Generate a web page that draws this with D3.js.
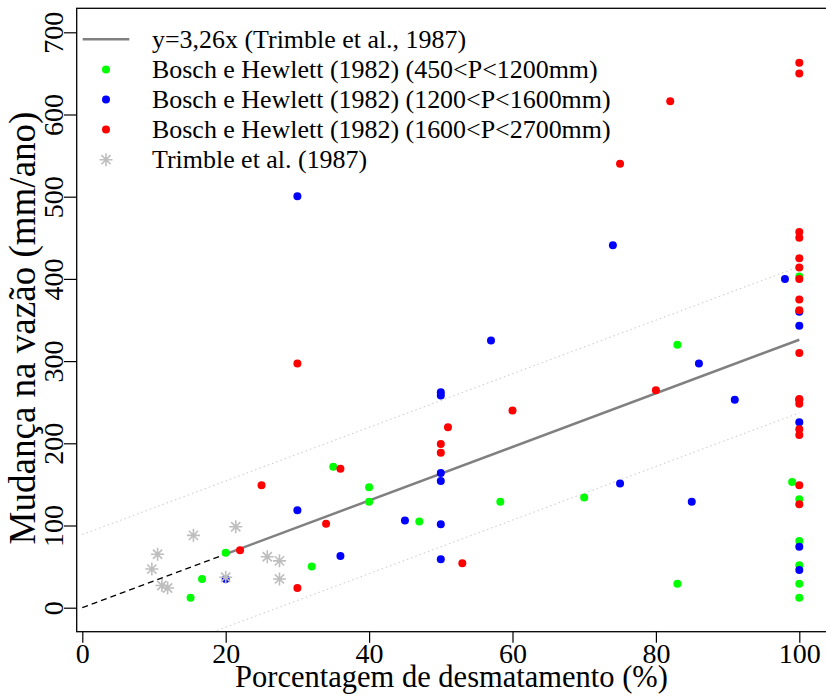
<!DOCTYPE html>
<html><head><meta charset="utf-8">
<script src="https://cdn.jsdelivr.net/npm/d3@7"></script>
<style>body{margin:0;background:#fff}</style>
</head><body><svg id="c" width="826" height="698"></svg>
<script>
const trimbleX=[9.7,10.5,11.1,11.9,15.5,20.0,21.4,25.8,27.5,27.5];
const trimbleY=[47,65,27,24,88,37,98.5,62,57,35];
const greenX=[15.1,16.7,20,32,35,40,40,47,58.3,70,83,83,99,100,100,100,100,100,100];
const greenY=[12,35,67,50,171.5,146.5,129,105,129,134,320,29,153,403,132,81,51.5,29,12];
const blueX=[20,30,30,36,45,50,50,50,50,50,50,57,74,75,85,86,91,98,100,100,100,100,100,100];
const blueY=[35,118.5,500.5,63,106,258,262,164,154,101.5,59,325,441,151,129,297,253,400,360,343,253,225.5,74,46];
const redX=[22,25,30,30,34,36,50,50,51,53,60,75,80,82,100,100,100,100,100,100,100,100,100,100,100,100,100,100,100,100];
const redY=[70,149,297,24,102,169,199,188.6,219.5,54,240,540,264.5,616,663,650,457,450,425,414,400,375,362,310,254,248,217,210,149,126];
const slope=3.26, band=89;
const xTicks=[0,20,40,60,80,100];
const yTicks=[0,100,200,300,400,500,600,700];
const legendLabels=["y=3,26x (Trimble et al., 1987)","Bosch e Hewlett (1982) (450<P<1200mm)","Bosch e Hewlett (1982) (1200<P<1600mm)","Bosch e Hewlett (1982) (1600<P<2700mm)","Trimble et al. (1987)"];
const xLabel="Porcentagem de desmatamento (%)";
const yLabel="Mudança na vazão (mm/ano)";

const FF="Liberation Serif";
const svg=d3.select("#c");
const L=76.7,R=827,T=8.3,B=631.7;
const x=d3.scaleLinear().domain([0,100]).range([82.3,799.3]);
const y=d3.scaleLinear().domain([0,700]).range([607.7,32.3]);

function fit(sel,target,base){
  sel.style("font-size",base+"px");
  const w=sel.node().getComputedTextLength();
  sel.style("font-size",(base*target/w)+"px");
}

svg.append("clipPath").attr("id","clip").append("rect").attr("x",L).attr("y",T).attr("width",R-L).attr("height",B-T);
const plot=svg.append("g").attr("clip-path","url(#clip)");

[band,-band].forEach(b=>{
  plot.append("line").attr("x1",x(0)).attr("y1",y(b)).attr("x2",x(100)).attr("y2",y(slope*100+b))
   .attr("stroke","#c8c8c8").attr("stroke-width",1).attr("stroke-dasharray","1.5,3");
});
plot.append("line").attr("x1",x(0)).attr("y1",y(0)).attr("x2",x(20)).attr("y2",y(slope*20))
  .attr("stroke","#000").attr("stroke-width",1.3).attr("stroke-dasharray","6,4");
plot.append("line").attr("x1",x(20)).attr("y1",y(slope*20)).attr("x2",x(100)).attr("y2",y(slope*100))
  .attr("stroke","#808080").attr("stroke-width",2.5);

function dots(xs,ys,col){
  plot.append("g").selectAll("circle").data(xs).join("circle")
   .attr("cx",(d)=>x(d)).attr("cy",(d,i)=>y(ys[i])).attr("r",4).attr("fill",col);
}
dots(greenX,greenY,"#00ff00");
dots(blueX,blueY,"#0000ff");
dots(redX,redY,"#ff0000");

function star(g,cx,cy,s){
  const p=`M${cx-s},${cy}H${cx+s}M${cx},${cy-s}V${cy+s}M${cx-s*0.707},${cy-s*0.707}L${cx+s*0.707},${cy+s*0.707}M${cx-s*0.707},${cy+s*0.707}L${cx+s*0.707},${cy-s*0.707}`;
  g.append("path").attr("d",p).attr("stroke","#bebebe").attr("stroke-width",1.6).attr("fill","none");
}
const sg=plot.append("g");
trimbleX.forEach((d,i)=>star(sg,x(d),y(trimbleY[i]),6.5));

svg.append("rect").attr("x",L).attr("y",T).attr("width",R-L).attr("height",B-T).attr("fill","none").attr("stroke","#000").attr("stroke-width",1.3);

const xa=svg.append("g").attr("transform",`translate(0,${B})`).call(d3.axisBottom(x).tickValues(xTicks).tickSize(11).tickPadding(4).tickFormat(d3.format("d")));
xa.select(".domain").remove();
xa.selectAll("text").style("font-family",FF).style("font-size","28px").attr("fill","#000").attr("y",0).attr("dy",0)
  .attr("transform","translate(0,31)");
const ya=svg.append("g").attr("transform",`translate(${L},0)`).call(d3.axisLeft(y).tickValues(yTicks).tickSize(12.7).tickFormat(d3.format("d")));
ya.select(".domain").remove();
ya.selectAll("text").style("font-family",FF).style("font-size","28px").attr("fill","#000")
  .attr("transform","rotate(-90)").attr("x",0).attr("y",-14).attr("dy",0).attr("text-anchor","middle");
svg.selectAll(".tick line").attr("stroke","#000").attr("stroke-width",1.2);

const xl=svg.append("text").attr("x",451.5).attr("y",687).attr("text-anchor","middle").style("font-family",FF).text(xLabel);
fit(xl,433,28);
const yl=svg.append("text").attr("transform","translate(35,328) rotate(-90)").attr("text-anchor","middle").style("font-family",FF).text(yLabel);
fit(yl,433,28);

const ly=[39.3,69.4,99.5,129.6,159.7];
const lg=svg.append("g");
lg.append("line").attr("x1",82.7).attr("x2",129.3).attr("y1",ly[0]).attr("y2",ly[0]).attr("stroke","#808080").attr("stroke-width",2.5);
["#00ff00","#0000ff","#ff0000"].forEach((c,i)=>lg.append("circle").attr("cx",106).attr("cy",ly[i+1]).attr("r",4).attr("fill",c));
star(lg,106,ly[4],6.5);
const lts=legendLabels.map((t,i)=>lg.append("text").attr("x",152).attr("y",ly[i]).attr("dy","0.33em").style("font-family",FF).style("font-size","24px").text(t));
lts[1].style("font-size","24px");
const w1=lts[1].node().getComputedTextLength();
const lfs=24*446/w1;
lts.forEach(s=>s.style("font-size",lfs+"px"));
</script></body></html>
